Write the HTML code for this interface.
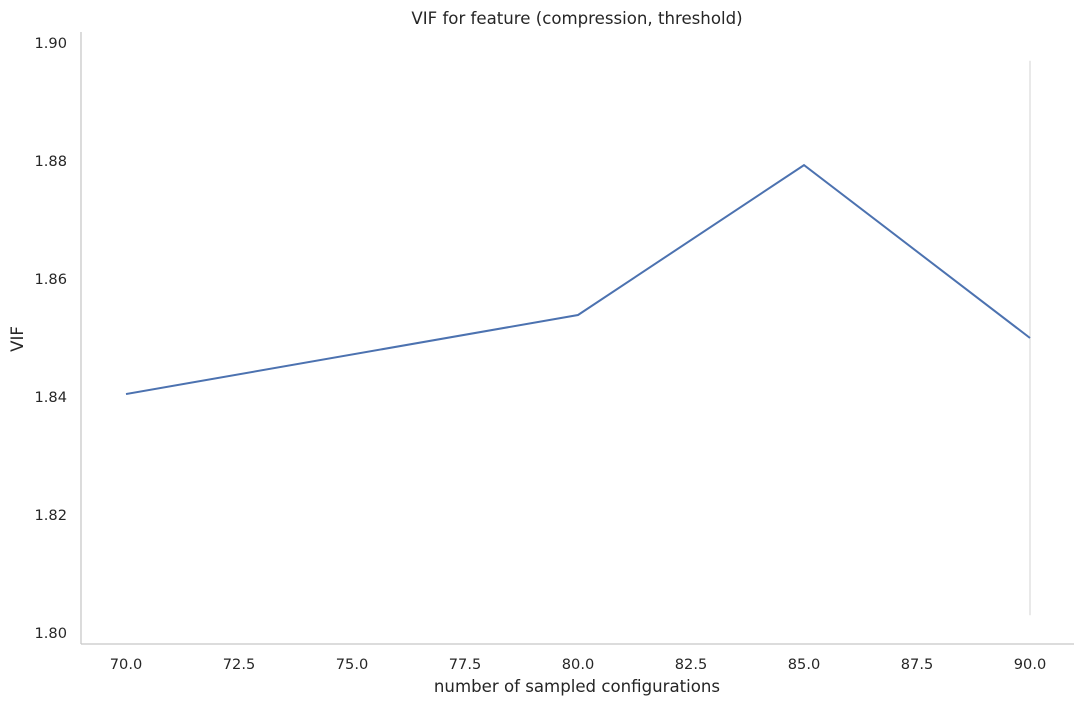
<!DOCTYPE html>
<html><head><meta charset="utf-8"><style>
body{margin:0;background:#fff;}
svg text{font-family:"DejaVu Sans","Liberation Sans",sans-serif;fill:#262626;}
</style></head><body>
<svg width="1084" height="706" xmlns="http://www.w3.org/2000/svg">
<rect width="1084" height="706" fill="#fff"/>
<text x="577" y="24" font-size="16.6" text-anchor="middle">VIF for feature (compression, threshold)</text>
<g id="yticks"></g>
<g id="xticks"></g>
<line x1="81" y1="32" x2="81" y2="644" stroke="#c8c8c8" stroke-width="1.3"/>
<line x1="81" y1="644" x2="1074" y2="644" stroke="#c8c8c8" stroke-width="1.3"/>
<line id="ci" x1="1030" y1="60" x2="1030" y2="616" stroke="#dddddd" stroke-width="1.3"/>
<path id="line" fill="none" stroke="#4c72b0" stroke-width="2"/>
<text x="577" y="692" font-size="16.6" text-anchor="middle">number of sampled configurations</text>
<text x="0" y="0" font-size="16.6" text-anchor="middle" transform="translate(23,339) rotate(-90)">VIF</text>
</svg>
<script>
const xValues=[70,80,85,90];
const vifValues=[1.8405,1.8539,1.8793,1.8500];
const yTicks=["1.80","1.82","1.84","1.86","1.88","1.90"];
const xTicks=["70.0","72.5","75.0","77.5","80.0","82.5","85.0","87.5","90.0"];
const ciLow=1.803, ciHigh=1.897;
function sx(v){return 126+(v-70)*(1030-126)/20;}
function sy(v){return 633-(v-1.80)*(633-43)/0.10;}
const ns="http://www.w3.org/2000/svg";
const yg=document.getElementById('yticks');
yTicks.forEach(t=>{const e=document.createElementNS(ns,'text');e.setAttribute('x',67);e.setAttribute('y',sy(+t)+5);e.setAttribute('font-size','14.6');e.setAttribute('text-anchor','end');e.textContent=t;


yg.appendChild(e);});
const xg=document.getElementById('xticks');
xTicks.forEach(t=>{const e=document.createElementNS(ns,'text');e.setAttribute('x',sx(+t));e.setAttribute('y',669);e.setAttribute('font-size','14.6');e.setAttribute('text-anchor','middle');e.textContent=t;


xg.appendChild(e);});
document.getElementById('line').setAttribute('d',xValues.map((x,i)=>(i?'L':'M')+sx(x)+' '+sy(vifValues[i])).join(' '));
const ci=document.getElementById('ci');
ci.setAttribute('x1',sx(90));ci.setAttribute('x2',sx(90));ci.setAttribute('y1',sy(ciHigh));ci.setAttribute('y2',sy(ciLow));
</script>
</body></html>
